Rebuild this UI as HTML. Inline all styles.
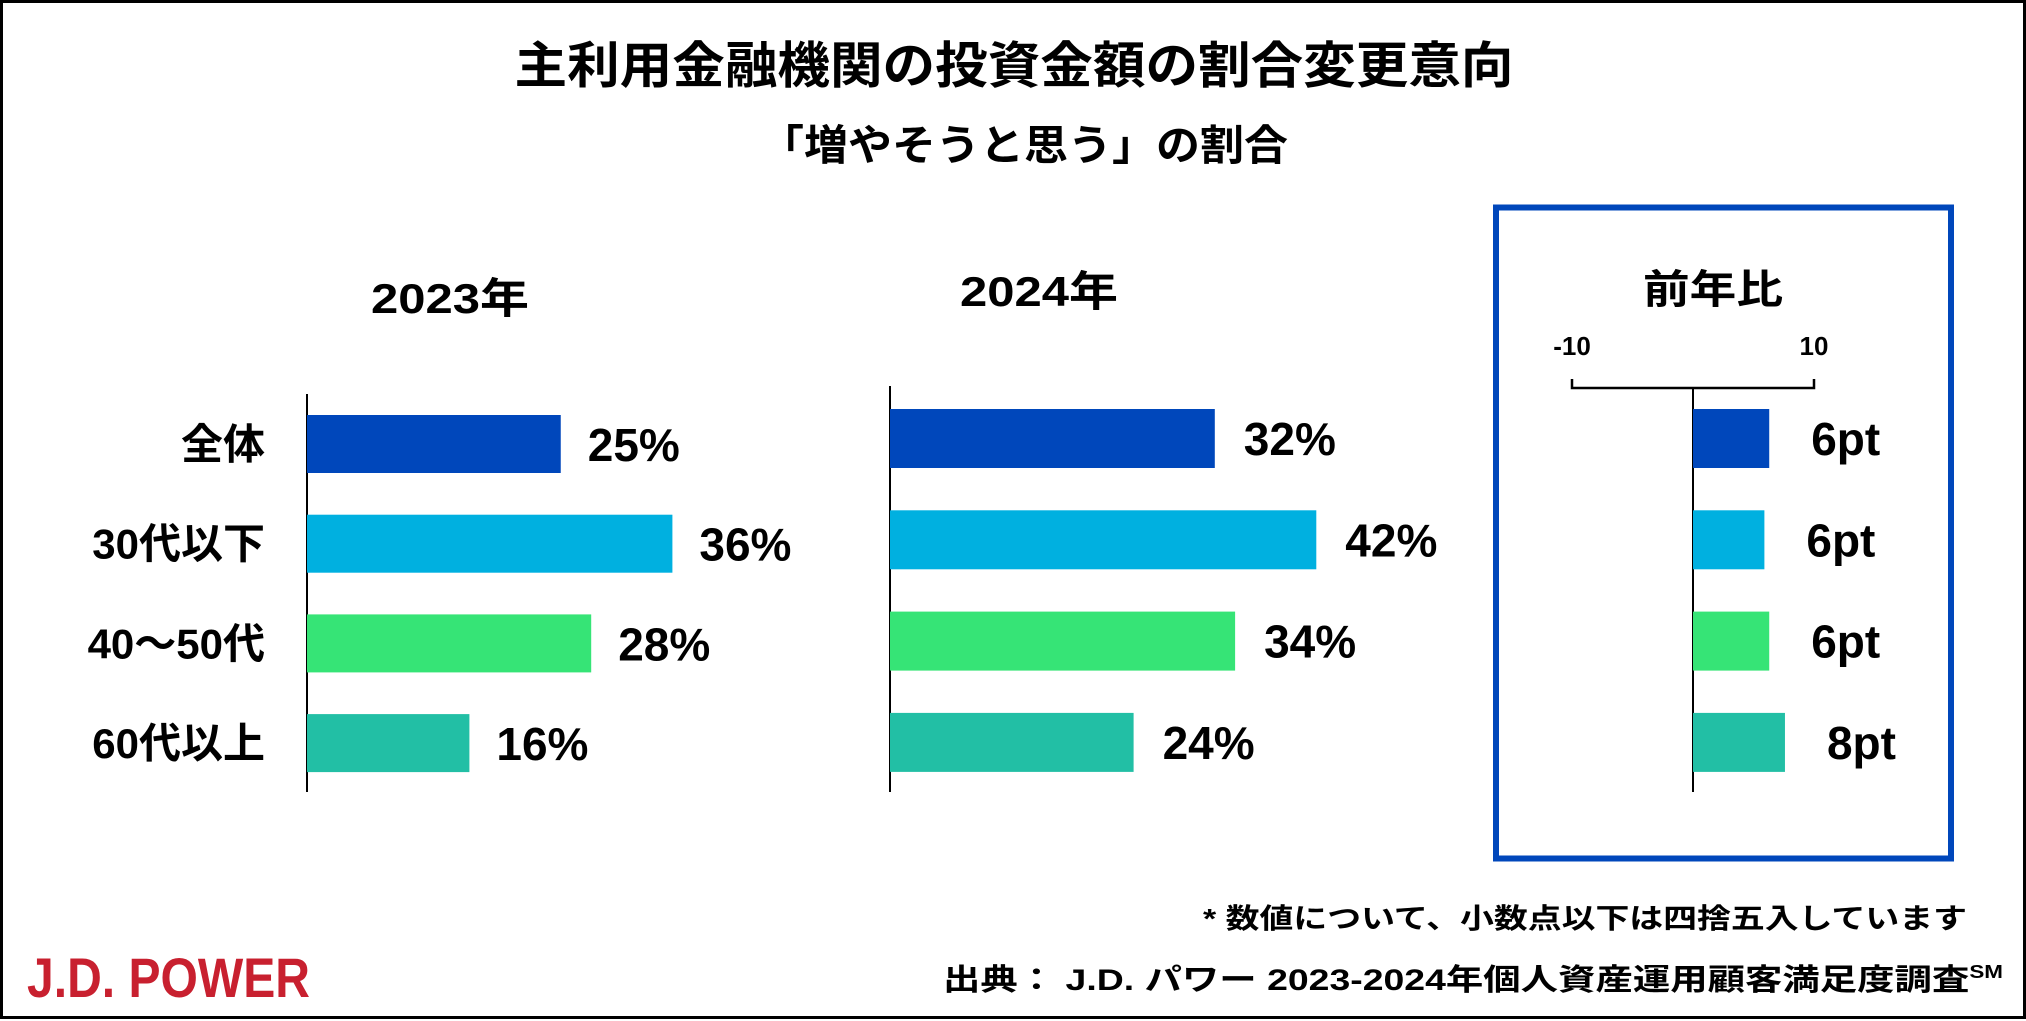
<!DOCTYPE html>
<html><head><meta charset="utf-8">
<style>
html,body{margin:0;padding:0;background:#fff;}
svg{display:block;}
text{font-family:"Liberation Sans","Noto Sans CJK JP",sans-serif;font-weight:bold;fill:#000;}
</style></head>
<body>
<svg id="chart" width="2026" height="1021" viewBox="0 0 2026 1021" xmlns="http://www.w3.org/2000/svg">
<rect x="1.5" y="1.5" width="2023" height="1016" fill="#fff" stroke="#000" stroke-width="3"/>
<text x="1014" y="83" font-size="50" text-anchor="middle" textLength="999" lengthAdjust="spacingAndGlyphs">主利用金融機関の投資金額の割合変更意向</text>
<text x="1024" y="160" font-size="42" text-anchor="middle" textLength="528" lengthAdjust="spacingAndGlyphs">「増やそうと思う」の割合</text>
<text x="450" y="313" font-size="42" text-anchor="middle" textLength="158" lengthAdjust="spacingAndGlyphs">2023年</text>
<text x="1039" y="306" font-size="42" text-anchor="middle" textLength="158" lengthAdjust="spacingAndGlyphs">2024年</text>
<rect x="1496" y="207.5" width="455" height="651" fill="none" stroke="#0047BB" stroke-width="6"/>
<text x="1713" y="303" font-size="40" text-anchor="middle" textLength="140" lengthAdjust="spacingAndGlyphs">前年比</text>
<text x="1020" y="928" font-size="28" textLength="764" lengthAdjust="spacingAndGlyphs" x2="0" transform="translate(183,0)">* 数値について、小数点以下は四捨五入しています</text>
<text x="943" y="990" font-size="30" textLength="1060" lengthAdjust="spacingAndGlyphs">出典： J.D. パワー 2023-2024年個人資産運用顧客満足度調査<tspan font-size="18" dy="-12">SM</tspan></text>
<text x="27" y="997" font-size="56" textLength="283" lengthAdjust="spacingAndGlyphs" style="fill:#C8202F">J.D. POWER</text>
<g id="marks"></g>
</svg>
<script>
const categories = ["全体", "30代以下", "40～50代", "60代以上"];
const values2023 = [25, 36, 28, 16];
const values2024 = [32, 42, 34, 24];
const diffValues = [6.3, 5.9, 6.3, 7.6];
const diffLabels = ["6pt", "6pt", "6pt", "8pt"];
const diffTicks = [-10, 10];
const colors = ["#0047BB", "#00B0E0", "#36E476", "#22BFA5"];

const NS = "http://www.w3.org/2000/svg";
const g = document.getElementById("marks");
function el(tag, attrs, txt){
  const e = document.createElementNS(NS, tag);
  for (const k in attrs) e.setAttribute(k, attrs[k]);
  if (txt !== undefined) e.textContent = txt;
  g.appendChild(e);
  return e;
}
const pxPerPct = 10.15;
const x2023 = v => 307 + v * pxPerPct;
const x2024 = v => 890 + v * pxPerPct;
const xDiff = v => 1693 + v * 12.1;
const rows2023 = i => 415 + i * 99.7;
const rows2024 = i => 409 + i * 101.3;

// axes
let a;
a = el("line", {x1:307, y1:394, x2:307, y2:792, stroke:"#000", "stroke-width":2});


a = el("line", {x1:890, y1:386, x2:890, y2:792, stroke:"#000", "stroke-width":2});


a = el("line", {x1:xDiff(0), y1:388, x2:xDiff(0), y2:792, stroke:"#000", "stroke-width":2});


a = el("path", {d:`M${xDiff(diffTicks[0])},379 V388 H${xDiff(diffTicks[1])} V379`, fill:"none", stroke:"#000", "stroke-width":2.5});


diffTicks.forEach(t => {
  const tt = el("text", {x:xDiff(t), y:355, "font-size":26, "text-anchor":"middle"}, String(t));
  
  
});

categories.forEach((c, i) => {
  const y1 = rows2023(i), h = 58;
  const lab = el("text", {x:265, y:y1 + h/2 + 15, "font-size":42, "text-anchor":"end"}, c);
  
  

  const b1 = el("rect", {x:307, y:y1, width:x2023(values2023[i]) - 307, height:h, fill:colors[i]});
  
  
  const v1 = el("text", {x:x2023(values2023[i]) + 27, y:y1 + h/2 + 17, "font-size":46}, values2023[i] + "%");
  
  

  const y2 = rows2024(i);
  const b2 = el("rect", {x:890, y:y2, width:x2024(values2024[i]) - 890, height:h + 1, fill:colors[i]});
  
  
  const v2 = el("text", {x:x2024(values2024[i]) + 29, y:y2 + h/2 + 17, "font-size":46}, values2024[i] + "%");
  
  

  const b3 = el("rect", {x:xDiff(0), y:y2, width:xDiff(diffValues[i]) - xDiff(0), height:h + 1, fill:colors[i]});
  
  
  const v3 = el("text", {x:xDiff(diffValues[i]) + 42, y:y2 + h/2 + 17, "font-size":46}, diffLabels[i]);
  
  
});
</script>
</body></html>
